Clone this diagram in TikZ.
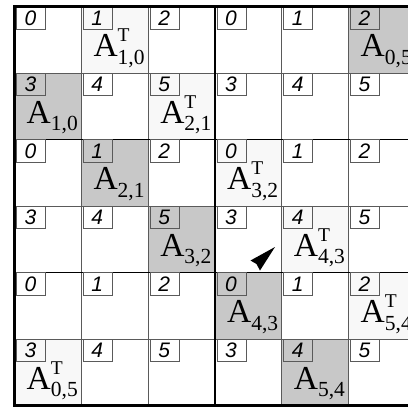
\documentclass[tikz,border=0pt]{standalone}
\usepackage{fontspec}
\setmainfont{Liberation Serif}
\setsansfont{Liberation Sans}
\definecolor{cellgray}{RGB}{200,200,200}
\definecolor{celllight}{RGB}{248,248,248}
\definecolor{gridgray}{RGB}{90,90,90}
\newcommand\Amat[1]{\fontsize{33.5}{33.5}\selectfont A\raisebox{-7.5pt}{\fontsize{21.5}{21.5}\selectfont #1}}
\newcommand\Atra[1]{\fontsize{33.5}{33.5}\selectfont A\rlap{\raisebox{15pt}{\fontsize{19.5}{19.5}\selectfont T}}\raisebox{-7.5pt}{\fontsize{21.5}{21.5}\selectfont #1}}
\tikzset{
  gridline/.style={draw=gridgray, line width=0.9pt},
  blockline/.style={draw=black, line width=1.5pt},
  outerline/.style={draw=black, line width=3pt},
  labbox/.style={draw=gridgray, line width=0.8pt},
  labtext/.style={font=\sffamily\itshape\fontsize{21}{21}\selectfont, inner sep=0pt},
  mattext/.style={anchor=base west, inner sep=0pt},
}
\begin{document}
\begin{tikzpicture}[x=1pt,y=-1pt]
\useasboundingbox (0,0) rectangle (408,407);
\path[clip] (0,0) rectangle (408,407);
\def\W{66.8}
\def\H{66.5}
% cell fills
\foreach \r/\c/\f in {0/1/celllight,0/5/cellgray,1/0/cellgray,1/2/celllight,2/1/cellgray,2/3/celllight,3/2/cellgray,3/4/celllight,4/3/cellgray,4/5/celllight,5/0/celllight,5/4/cellgray}
  \fill[\f] ({14.5+\c*\W},{6.5+\r*\H}) rectangle ++(\W,\H);
% regular grid lines
\foreach \c in {1,2,4,5}
  \draw[gridline] ({14.5+\c*\W},6.5) -- ({14.5+\c*\W},405.5);
\foreach \r in {1,3,5}
  \draw[gridline] (14.5,{6.5+\r*\H}) -- (420,{6.5+\r*\H});
% block lines
\draw[blockline] ({14.5+3*\W},6.5) -- ({14.5+3*\W},405.5);
\foreach \r in {2,4}
  \draw[blockline] (14.5,{6.5+\r*\H}) -- (420,{6.5+\r*\H});
% label boxes and numbers
\foreach \r in {0,...,5}{
  \foreach \c in {0,...,5}{
    \pgfmathtruncatemacro\lab{3*mod(\r,2)+mod(\c,3)}
    \draw[labbox] ({16.5+\c*\W},{6.5+\r*\H}) rectangle ++(29,22.5);
    \node[labtext] (n\r\c) at ({30.5+\c*\W},{18+\r*\H}) {\lab};
  }
}
% outer border
\draw[outerline] (420,6.5) -- (14.5,6.5) -- (14.5,405.5) -- (420,405.5);
% matrix blocks
\node[mattext] (a05) at ({26.5+5*\W},{56.5+0*\H}) {\Amat{0,5}};
\node[mattext] (a10) at ({26.5+0*\W},{56.5+1*\H}) {\Amat{1,0}};
\node[mattext] (a21) at ({26.5+1*\W},{56.5+2*\H}) {\Amat{2,1}};
\node[mattext] (a32) at ({26.5+2*\W},{56.5+3*\H}) {\Amat{3,2}};
\node[mattext] (a43) at ({26.5+3*\W},{56.5+4*\H}) {\Amat{4,3}};
\node[mattext] (a54) at ({26.5+4*\W},{56.5+5*\H}) {\Amat{5,4}};
\node[mattext] (t10) at ({26.5+1*\W},{56.5+0*\H}) {\Atra{1,0}};
\node[mattext] (t21) at ({26.5+2*\W},{56.5+1*\H}) {\Atra{2,1}};
\node[mattext] (t32) at ({26.5+3*\W},{56.5+2*\H}) {\Atra{3,2}};
\node[mattext] (t43) at ({26.5+4*\W},{56.5+3*\H}) {\Atra{4,3}};
\node[mattext] (t54) at ({26.5+5*\W},{56.5+4*\H}) {\Atra{5,4}};
\node[mattext] (t05) at ({26.5+0*\W},{56.5+5*\H}) {\Atra{0,5}};
% arrowhead
\fill[black] (275,247) -- (250.5,260.5) -- (256.5,264) -- (260,270.5) -- cycle;
\end{tikzpicture}
\end{document}
